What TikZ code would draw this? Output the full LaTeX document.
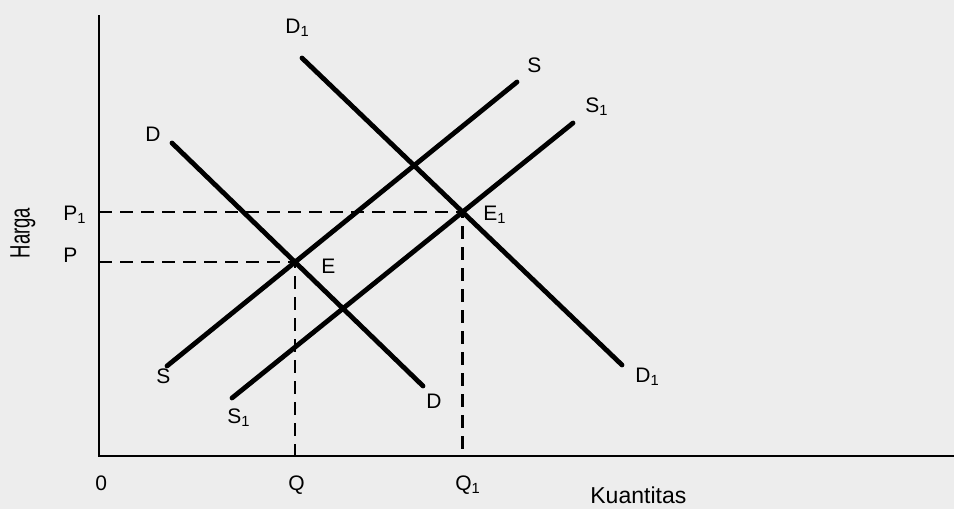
\documentclass[tikz,border=0pt]{standalone}
\usepackage{fontspec}
\setmainfont{Liberation Sans}
\usetikzlibrary{intersections}

\begin{document}
\begin{tikzpicture}[x=0.5pt,y=-0.5pt,
  curve/.style={line width=2.4pt,line cap=round},
  guide/.style={line width=1.2pt,dash pattern=on 6.5pt off 4pt},
  lbl/.style={font=\fontsize{10.5}{12}\selectfont,inner sep=0pt,anchor=base west}]
\fill[black!7] (0,0) rectangle (954,509);
\useasboundingbox (0,0) rectangle (954,509);
% axes
\coordinate (orig) at (99,456);
\coordinate (ytop) at (99,15);
\coordinate (xend) at (954,456);
\draw[line width=1.4pt] (ytop) -- (orig) -- (xend);
% curve ends
\coordinate (d0) at (172,143);
\coordinate (d1) at (423,386);
\coordinate (dd0) at (302,58);
\coordinate (dd1) at (622,365);
\coordinate (s0) at (167,366);
\coordinate (s1) at (517,82);
\coordinate (ss0) at (232,398);
\coordinate (ss1) at (573,123);
\path[name path=dem] (d0) -- (d1);
\path[name path=dem1] (dd0) -- (dd1);
\path[name path=sup] (s0) -- (s1);
\path[name path=sup1] (ss0) -- (ss1);
\path[name intersections={of=dem and sup,by=E}];
\path[name intersections={of=dem1 and sup1,by=E1}];
% dashed guides
\draw[guide] (orig |- E) -- (E) -- (E |- orig);
\draw[guide] (orig |- E1) -- (E1) -- (E1 |- orig);
% demand and supply
\foreach \a/\b in {d0/d1,dd0/dd1,s0/s1,ss0/ss1}
  \draw[curve] (\a) -- (\b);
% labels
\foreach \x/\y/\txt/\nm in {285/33/{D\textsubscript{1}}/dtop,145/141/D/dlft,
    527/72/S/stop,585/112/{S\textsubscript{1}}/sstop,321/273/E/elab,
    483/220/{E\textsubscript{1}}/eelab,635/382/{D\textsubscript{1}}/ddbot,
    426/408/D/dbot,156/383/S/sbot,227/423/{S\textsubscript{1}}/ssbot,
    63/220/{P\textsubscript{1}}/pplab,63/262/P/plab,95/490/0/zero,
    288/490/Q/qlab,455/490/{Q\textsubscript{1}}/qqlab}
  \node[lbl] (\nm) at (\x,\y) {\txt};
\node[font=\fontsize{11.5}{13}\selectfont,inner sep=0pt,anchor=base west] (klab) at (590,503) {Kuantitas};
\node[rotate=90,font=\fontsize{14}{16}\selectfont,inner sep=0pt] (hlab) at (23,233) {\scalebox{0.66}[1]{Harga}};
\end{tikzpicture}
\end{document}
